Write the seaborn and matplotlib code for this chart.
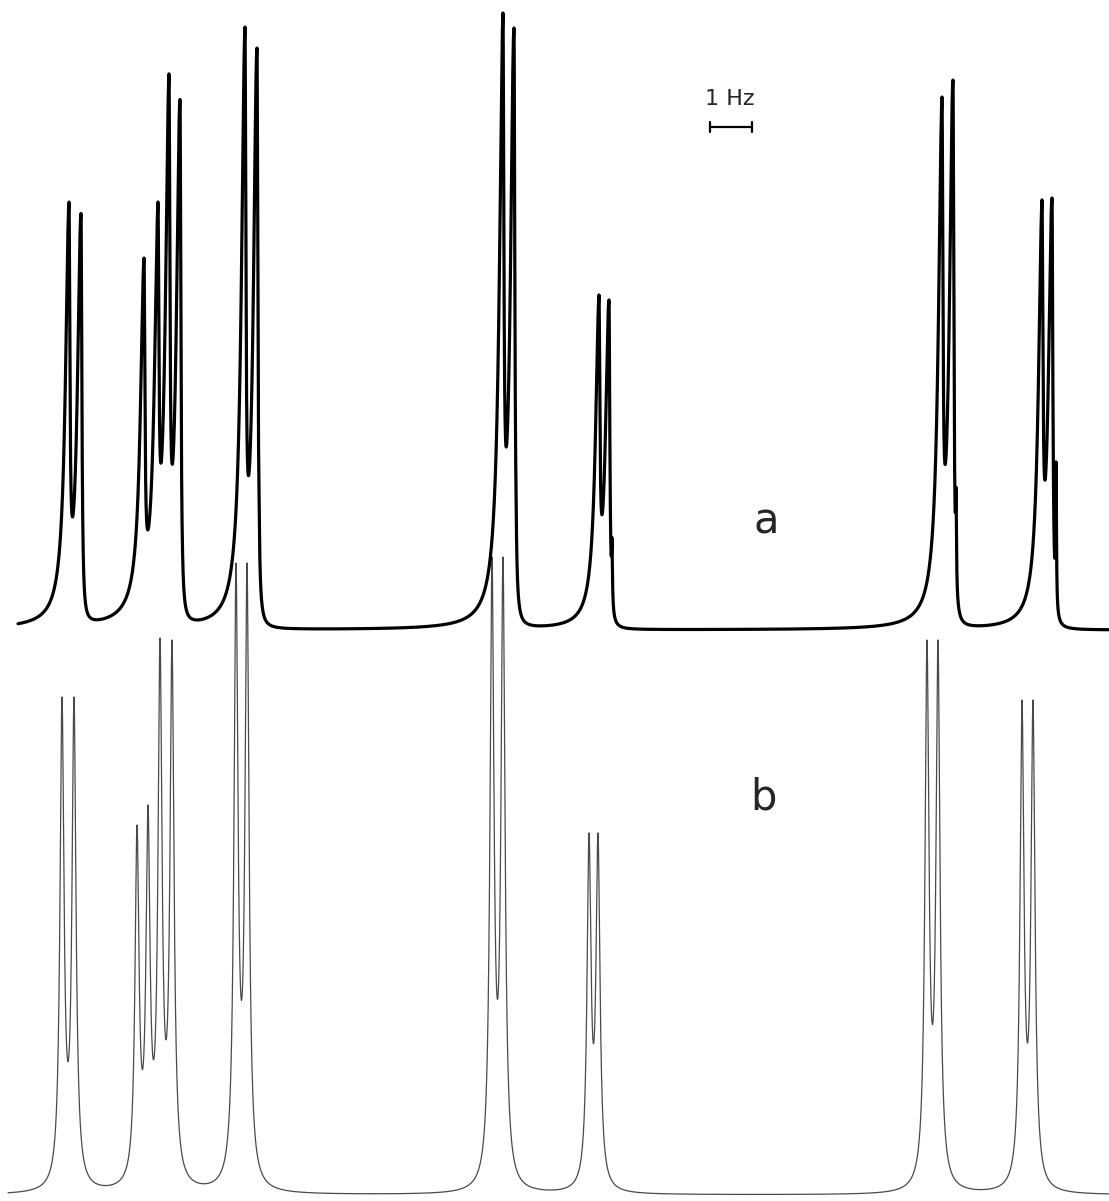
import numpy as np
import pandas as pd
import seaborn as sns
from matplotlib import pyplot as plt

# Line positions (Hz) and peak heights (above each baseline).
# Trace a: recorded spectrum
pos_a = [1.643, 1.929, 3.429, 3.762, 4.024, 4.286, 5.833, 6.119,
         11.976, 12.238, 14.262, 14.500, 22.429, 22.690, 24.810, 25.048]
height_a = [428, 416, 372, 428, 556, 504, 603, 582,
            617, 602, 335, 330, 533, 550, 430, 432]
# Trace a: ringing spikes just after each multiplet
spike_pos_a = [1.976, 4.310, 6.167, 12.286, 14.571, 22.762, 25.143]
spike_height_a = [82, 133, 140, 140, 92, 142, 168]
# Trace b: simulated spectrum
pos_b = [1.476, 1.762, 3.262, 3.524, 3.810, 4.095, 5.619, 5.881,
         11.714, 11.976, 14.024, 14.238, 22.071, 22.333, 24.333, 24.595]
height_b = [498, 498, 370, 390, 557, 555, 632, 632,
            638, 638, 362, 362, 555, 555, 495, 495]

labels = ["a", "b"]

W, H = 1109, 1201
HZ_PX = 42.0           # pixels per Hz (scale bar)
BASE_A = H - 630
BASE_B = H - 1195


def lorentz(x, x0, g_left, g_right):
    g = np.where(x < x0, g_left, g_right)
    return 1.0 / (1.0 + ((x - x0) / g) ** 2)


def spectrum(x, centers, heights, widths):
    """Sum of lines whose amplitudes reproduce the read peak heights."""
    centers = np.asarray(centers, float)
    m = np.array([[lorentz(np.array(ci), cj, *wj) for cj, wj in zip(centers, widths)]
                  for ci in centers])
    amps = np.clip(np.linalg.solve(m, np.asarray(heights, float)), 0, None)
    y = np.zeros_like(x)
    for c, a, w in zip(centers, amps, widths):
        y += a * lorentz(x, c, *w)
    return y


x = np.linspace(0, W / HZ_PX, 24000)

# recorded lines: broad leading edge, steep trailing edge
w_line_a = (4.2 / HZ_PX, 1.0 / HZ_PX)
w_spike_a = (0.5 / HZ_PX, 0.5 / HZ_PX)
centers_a = pos_a + spike_pos_a
heights_a = height_a + spike_height_a
widths_a = [w_line_a] * len(pos_a) + [w_spike_a] * len(spike_pos_a)
ya = spectrum(x, centers_a, heights_a, widths_a) + BASE_A

w_b = (2.4 / HZ_PX, 2.4 / HZ_PX)
yb = spectrum(x, pos_b, height_b, [w_b] * len(pos_b)) + BASE_B

df_a = pd.DataFrame({"freq": x, "signal": ya})
df_a = df_a[df_a.freq > 18 / HZ_PX]
df_b = pd.DataFrame({"freq": x, "signal": yb})
df_b = df_b[df_b.freq > 8 / HZ_PX]

sns.set_style("white")
fig = plt.figure(figsize=(W / 100, H / 100), dpi=100)
ax = fig.add_axes([0, 0, 1, 1])

sns.lineplot(data=df_b, x="freq", y="signal", ax=ax, estimator=None, sort=False,
             color="#4a4a4a", linewidth=0.9)
sns.lineplot(data=df_a, x="freq", y="signal", ax=ax, estimator=None, sort=False,
             color="black", linewidth=2.3)

# trace labels
ax.text(766 / HZ_PX, H - 522, labels[0], fontsize=30, ha="center", va="center",
        family="DejaVu Sans")
ax.text(763 / HZ_PX, H - 797, labels[1], fontsize=30, ha="center", va="center",
        family="DejaVu Sans")

# 1 Hz scale bar
bar_x0 = 710 / HZ_PX
bar_y = H - 127
ax.plot([bar_x0, bar_x0 + 1.0], [bar_y, bar_y], color="black", lw=1.6)
for xe in (bar_x0, bar_x0 + 1.0):
    ax.plot([xe, xe], [bar_y - 5, bar_y + 5], color="black", lw=1.6)
ax.text(bar_x0 + 0.47, H - 99, "1 Hz", fontsize=16, ha="center", va="center")

ax.set_xlim(0, W / HZ_PX)
ax.set_ylim(0, H)
ax.axis("off")

fig.savefig("out.png", dpi=100)
